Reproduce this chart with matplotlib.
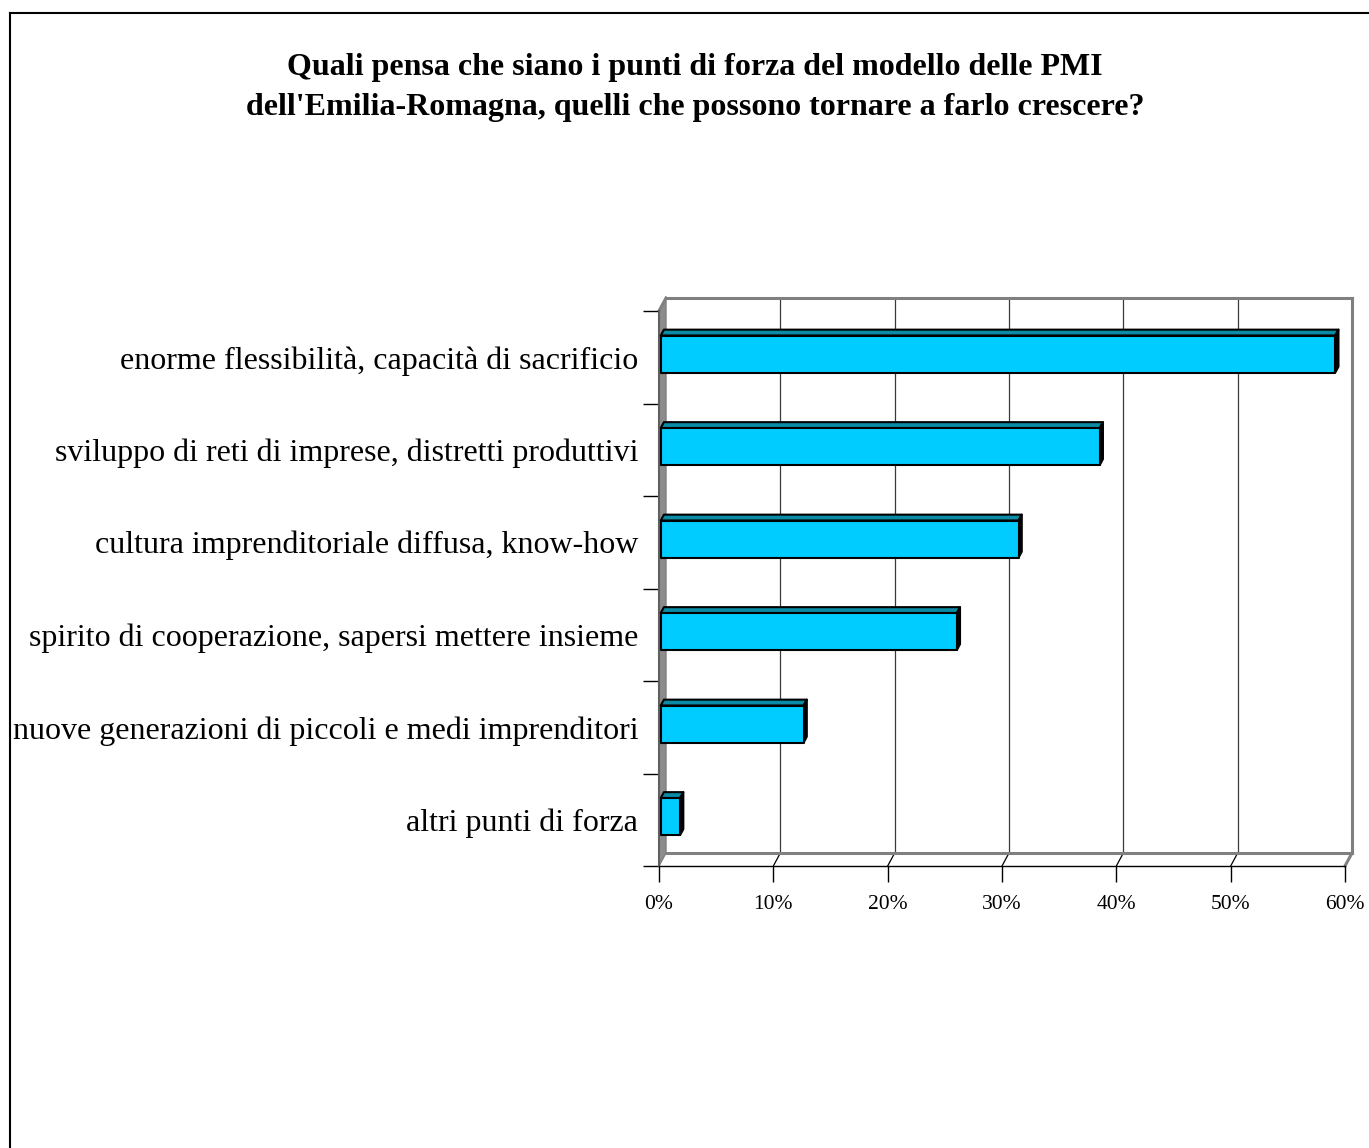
import matplotlib
matplotlib.use("Agg")
import matplotlib.pyplot as plt
from matplotlib.patches import Polygon
from matplotlib.lines import Line2D
import numpy as np

# data (percent of answers)
categories = [
    "enorme flessibilità, capacità di sacrificio",
    "sviluppo di reti di imprese, distretti produttivi",
    "cultura imprenditoriale diffusa, know-how",
    "spirito di cooperazione, sapersi mettere insieme",
    "nuove generazioni di piccoli e medi imprenditori",
    "altri punti di forza",
]
values = [59.0, 38.4, 31.3, 25.9, 12.5, 1.7]
xticks = [0, 10, 20, 30, 40, 50, 60]
xlabels = ["0%", "10%", "20%", "30%", "40%", "50%", "60%"]
title = ("Quali pensa che siano i punti di forza del modello delle PMI\n"
         "dell'Emilia-Romagna, quelli che possono tornare a farlo crescere?")

plt.rcParams['font.family'] = ['Liberation Serif', 'DejaVu Serif']

W, H = 1369, 1148
fig = plt.figure(figsize=(W / 100, H / 100), dpi=100)
ax = fig.add_axes([659 / W, (H - 866) / H, 686 / W, 555 / H])
n = len(categories)
ax.set_xlim(0, 60)
ax.set_ylim(n - 0.5, -0.5)

# pixels per data unit, used for the fake 3d depth
p0 = ax.transData.transform((0, 0))
p1 = ax.transData.transform((1, 1))
sx = p1[0] - p0[0]
sy = p1[1] - p0[1]
DX, DY = 7, 13  # depth of the wall in pixels


def d(x, y, f):
    return (x + f * DX / sx, y + f * DY / sy)


grey = '#808080'
top, bot = -0.5, n - 0.5

# left wall
ax.add_patch(Polygon([d(0, top, 0), d(0, bot, 0), d(0, bot, 1), d(0, top, 1)],
                     closed=True, facecolor='#8c8c8c', edgecolor=grey, lw=1,
                     clip_on=False, zorder=1))
# back wall gridlines
for x in xticks[1:-1]:
    ax.add_line(Line2D(*zip(d(x, top, 1), d(x, bot, 1)), color='#3a3a3a',
                       lw=0.9, clip_on=False, zorder=1))
    ax.add_line(Line2D(*zip(d(x, bot, 0), d(x, bot, 1)), color='black',
                       lw=0.9, clip_on=False, zorder=1))
# back wall / floor outline
for a, b in [(d(0, top, 1), d(60, top, 1)), (d(60, top, 1), d(60, bot, 1)),
             (d(0, bot, 1), d(60, bot, 1)), (d(60, bot, 0), d(60, bot, 1)),
             (d(0, top, 0), d(0, top, 1))]:
    ax.add_line(Line2D(*zip(a, b), color=grey, lw=2.2, clip_on=False,
                       solid_capstyle='projecting', zorder=1.5))

# bars
h = 0.4
f0, f1 = 0.25, 0.7
for i, v in enumerate(values):
    y0, y1 = i - h / 2, i + h / 2
    front = [d(0, y0, f0), d(v, y0, f0), d(v, y1, f0), d(0, y1, f0)]
    topf = [d(0, y0, f0), d(v, y0, f0), d(v, y0, f1), d(0, y0, f1)]
    side = [d(v, y0, f0), d(v, y0, f1), d(v, y1, f1), d(v, y1, f0)]
    for pts, fc in [(topf, '#0a8ca6'), (side, 'black'), (front, '#00ccff')]:
        ax.add_patch(Polygon(pts, closed=True, facecolor=fc, edgecolor='black',
                             lw=1.5, joinstyle='round', clip_on=False, zorder=3))

for s in ['top', 'right']:
    ax.spines[s].set_visible(False)
ax.spines['left'].set_color('#606060')
ax.spines['left'].set_linewidth(1.5)
ax.spines['bottom'].set_color('black')
ax.spines['bottom'].set_linewidth(1)

ax.set_xticks(xticks)
ax.set_xticklabels(xlabels, fontsize=15.5)
ax.tick_params(axis='x', length=11.5, width=1, pad=9.5, color='black')
ax.set_yticks(np.arange(-0.5, n, 1))
ax.set_yticklabels([])
ax.tick_params(axis='y', which='major', length=11.5, width=1, color='black')
ax.set_yticks(np.arange(n), minor=True)
ax.set_yticklabels(categories, minor=True, fontsize=23)
ax.tick_params(axis='y', which='minor', length=0, pad=15)
ax.set_facecolor('none')

fig.text(695 / W, 1 - 53 / H, title, ha='center', va='top', fontsize=23,
         fontweight='bold', linespacing=1.5)

# outer frame of the chart area
fig.add_artist(Line2D([9.5 / W, 9.5 / W], [0, 1 - 13 / H], color='black', lw=1.5,
                      transform=fig.transFigure))
fig.add_artist(Line2D([9.5 / W, 1], [1 - 13 / H, 1 - 13 / H], color='black', lw=1.5,
                      transform=fig.transFigure))

fig.savefig("out.png", dpi=100)
